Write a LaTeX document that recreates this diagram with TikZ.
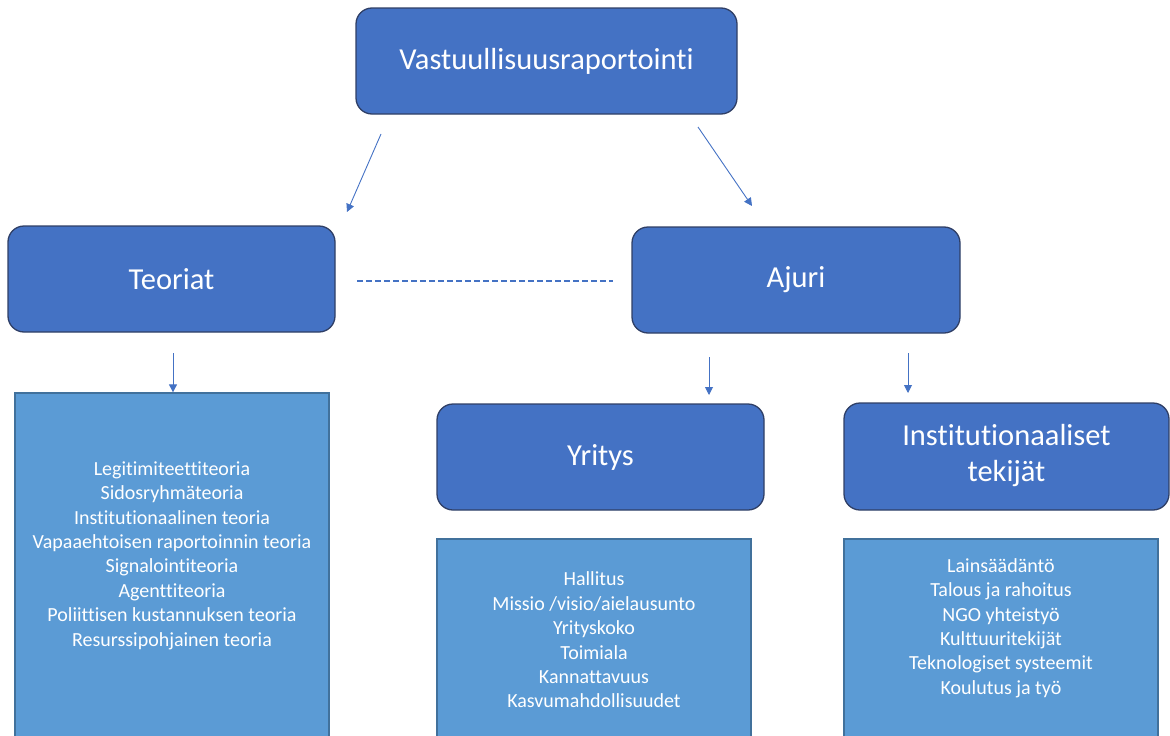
\documentclass[tikz,border=0pt]{standalone}
\usepackage{fontspec}
\setmainfont{Carlito}[RawFeature={-liga;-clig;-dlig}]
\usetikzlibrary{arrows.meta}
\definecolor{boxblue}{HTML}{4472C4}
\definecolor{boxedge}{HTML}{2F3F66}
\definecolor{listblue}{HTML}{5B9BD5}
\definecolor{listedge}{HTML}{41719C}
\definecolor{arrowblue}{HTML}{4472C4}
\tikzset{
  headbox/.style={draw=boxedge, line width=1.3pt, fill=boxblue, rounded corners=16pt,
    text=white, align=center, font=\fontsize{30.5}{36}\selectfont, inner sep=0pt},
  listbox/.style={draw=listedge, line width=1.3pt, fill=listblue, inner sep=0pt},
  listtext/.style={text=white, align=center, font=\fontsize{20}{24.4}\selectfont, inner sep=0pt},
  conn/.style={draw=arrowblue, line width=0.9pt, -{Triangle[width=8pt,length=8pt]}},
}
\begin{document}
\begin{tikzpicture}[x=1pt,y=-1pt]
\useasboundingbox (0,0) rectangle (1170,736);
\clip (0,0) rectangle (1170,736);
% head boxes
\node[headbox, minimum width=381pt, minimum height=106pt] (top) at (546.5,61) {\raisebox{-2pt}{Vastuullisuusraportointi}};
\node[headbox, minimum width=327pt, minimum height=106pt] (teo) at (171.5,279) {Teoriat};
\node[headbox, minimum width=328pt, minimum height=106pt] (aju) at (796,280) {Ajuri};
\node[headbox, minimum width=327pt, minimum height=106pt] (yri) at (600.5,457) {Yritys};
\node[headbox, minimum width=325pt, minimum height=107pt] (ins) at (1006.5,456.5) {\raisebox{-3pt}{\begin{tabular}{@{}c@{}}Institutionaaliset\\tekijät\end{tabular}}};
% list boxes
\node[listbox, minimum width=314pt, minimum height=370pt] (tl) at (172,578) {};
\node[listbox, minimum width=314pt, minimum height=220pt] (yl) at (594,649) {};
\node[listbox, minimum width=314pt, minimum height=220pt] (il) at (1001,649) {};
\node[listtext] (tlt) at (172,555.5) {Legitimiteettiteoria\\Sidosryhmäteoria\\Institutionaalinen teoria\\Vapaaehtoisen raportoinnin teoria\\Signalointiteoria\\Agenttiteoria\\Poliittisen kustannuksen teoria\\Resurssipohjainen teoria};
\node[listtext] (ylt) at (594,640) {Hallitus\\Missio /visio/aielausunto\\Yrityskoko\\Toimiala\\Kannattavuus\\Kasvumahdollisuudet};
\node[listtext] (ilt) at (1001,628) {Lainsäädäntö\\Talous ja rahoitus\\NGO yhteistyö\\Kulttuuritekijät\\Teknologiset systeemit\\Koulutus ja työ};
% connector end points
\coordinate (a1s) at (381,134);
\coordinate (a1e) at (347,212);
\coordinate (a2s) at (698,127);
\coordinate (a2e) at (752,206);
\coordinate (a3s) at (173,353);
\coordinate (a4s) at (709,357);
\coordinate (a4e) at (709,395);
\coordinate (a5s) at (908,353);
\coordinate (a5e) at (908,393);
\coordinate (d1) at (357,281);
\coordinate (d2) at (613,281);
\draw[conn] (a1s) -- (a1e);
\draw[conn] (a2s) -- (a2e);
\draw[conn] (a3s) -- (a3s |- tl.north);
\draw[conn] (a4s) -- (a4e);
\draw[conn] (a5s) -- (a5e);
\draw[arrowblue, line width=1.3pt, dash pattern=on 6pt off 3pt] (d1) -- (d2);
\end{tikzpicture}
\end{document}
